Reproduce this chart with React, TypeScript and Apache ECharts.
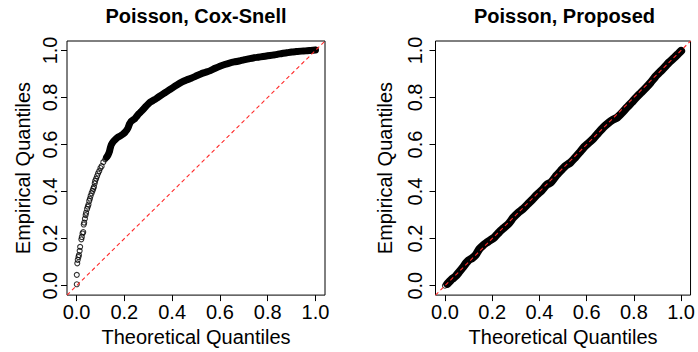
import React, { useEffect, useRef } from "react";
import * as echarts from "echarts";

// Tick values shared by both panels
const tickValues = [0, 0.2, 0.4, 0.6, 0.8, 1.0];

// Left panel: Poisson, Cox-Snell — sparse low-end points
const coxSparseX = [0.001, 0.001, 0.003, 0.005, 0.008, 0.01, 0.013, 0.015, 0.02, 0.022, 0.025, 0.028, 0.03, 0.032, 0.035, 0.038, 0.04, 0.044, 0.047, 0.05, 0.053, 0.056, 0.059, 0.063, 0.067, 0.07, 0.073, 0.076, 0.078, 0.082, 0.086, 0.09, 0.095];
const coxSparseY = [0.006, 0.046, 0.095, 0.11, 0.122, 0.13, 0.148, 0.165, 0.197, 0.207, 0.222, 0.228, 0.26, 0.268, 0.285, 0.3, 0.31, 0.326, 0.336, 0.345, 0.36, 0.37, 0.382, 0.393, 0.403, 0.412, 0.42, 0.435, 0.445, 0.455, 0.466, 0.477, 0.487];

// Left panel: dense part of the curve
const coxDenseX = [0.1, 0.105, 0.112, 0.12, 0.126, 0.132, 0.137, 0.141, 0.145, 0.15, 0.156, 0.165, 0.175, 0.185, 0.195, 0.203, 0.21, 0.216, 0.222, 0.228, 0.236, 0.244, 0.252, 0.26, 0.27, 0.28, 0.29, 0.3, 0.31, 0.325, 0.34, 0.355, 0.37, 0.385, 0.4, 0.42, 0.44, 0.46, 0.48, 0.5, 0.52, 0.54, 0.56, 0.58, 0.6, 0.62, 0.64, 0.66, 0.68, 0.7, 0.72, 0.74, 0.76, 0.78, 0.8, 0.82, 0.84, 0.86, 0.88, 0.9, 0.92, 0.94, 0.96, 0.98, 1.0];
const coxDenseY = [0.5, 0.508, 0.525, 0.537, 0.546, 0.556, 0.568, 0.585, 0.598, 0.607, 0.615, 0.624, 0.632, 0.638, 0.645, 0.652, 0.661, 0.672, 0.688, 0.698, 0.704, 0.71, 0.72, 0.73, 0.74, 0.75, 0.762, 0.772, 0.781, 0.79, 0.8, 0.81, 0.82, 0.83, 0.84, 0.853, 0.865, 0.874, 0.882, 0.891, 0.9, 0.907, 0.914, 0.924, 0.933, 0.94, 0.946, 0.951, 0.955, 0.96, 0.964, 0.968, 0.971, 0.974, 0.977, 0.98, 0.983, 0.987, 0.99, 0.993, 0.995, 0.997, 0.998, 1.0, 1.002];

// Right panel: Poisson, Proposed
const propX = [0.0, 0.01, 0.02, 0.03, 0.045, 0.06, 0.075, 0.09, 0.1, 0.115, 0.13, 0.145, 0.16, 0.175, 0.19, 0.21, 0.23, 0.25, 0.27, 0.29, 0.31, 0.33, 0.35, 0.37, 0.39, 0.41, 0.43, 0.45, 0.47, 0.49, 0.51, 0.53, 0.55, 0.57, 0.59, 0.61, 0.63, 0.65, 0.67, 0.69, 0.71, 0.73, 0.75, 0.77, 0.79, 0.81, 0.83, 0.85, 0.87, 0.89, 0.91, 0.93, 0.95, 0.97, 0.99, 1.0];
const propY = [0.0, 0.008, 0.018, 0.028, 0.04, 0.058, 0.077, 0.097, 0.108, 0.117, 0.13, 0.155, 0.17, 0.182, 0.192, 0.206, 0.228, 0.246, 0.264, 0.29, 0.31, 0.326, 0.346, 0.366, 0.387, 0.405, 0.428, 0.44, 0.466, 0.488, 0.509, 0.522, 0.543, 0.566, 0.59, 0.608, 0.627, 0.65, 0.672, 0.69, 0.705, 0.715, 0.735, 0.757, 0.778, 0.8, 0.82, 0.84, 0.862, 0.887, 0.908, 0.928, 0.95, 0.968, 0.988, 0.998];

// Reference line y = x across the plotting range
const refLine = [-0.04, 1.04];

const AX_MIN = -0.04;
const AX_MAX = 1.04;
const FONT = "Liberation Sans, Arial, Helvetica, sans-serif";

const zip = (xs: number[], ys: number[]) => xs.map((x, i) => [x, ys[i]]);

function makeX(gridIndex: number) {
  return {
    type: "value",
    gridIndex,
    min: AX_MIN,
    max: AX_MAX,
    name: "Theoretical Quantiles",
    nameLocation: "middle",
    nameGap: 31,
    nameTextStyle: { fontSize: 20, color: "#000", fontFamily: FONT },
    axisLine: { show: false, onZero: false },
    axisTick: {
      show: true,
      length: 6,
      inside: false,
      customValues: tickValues,
      lineStyle: { color: "#000", width: 1 },
    },
    axisLabel: {
      customValues: tickValues,
      formatter: (v: number) => v.toFixed(1),
      fontSize: 20,
      color: "#000",
      fontFamily: FONT,
      margin: 7,
    },
    splitLine: { show: false },
  };
}

function makeY(gridIndex: number, nameGap: number, margin: number) {
  return {
    type: "value",
    gridIndex,
    min: AX_MIN,
    max: AX_MAX,
    name: "Empirical Quantiles",
    nameLocation: "middle",
    nameGap,
    nameTextStyle: { fontSize: 20, color: "#000", fontFamily: FONT },
    axisLine: { show: false, onZero: false },
    axisTick: {
      show: true,
      length: 6,
      inside: false,
      customValues: tickValues,
      lineStyle: { color: "#000", width: 1 },
    },
    axisLabel: {
      customValues: tickValues,
      formatter: (v: number) => v.toFixed(1),
      fontSize: 20,
      color: "#000",
      fontFamily: FONT,
      rotate: 90,
      margin,
    },
    splitLine: { show: false },
  };
}

function panelSeries(idx: number, dense: number[][], all: number[][], bandWidth: number) {
  return [
    {
      type: "line",
      xAxisIndex: idx,
      yAxisIndex: idx,
      data: dense,
      showSymbol: false,
      symbol: "none",
      smooth: 0.2,
      silent: true,
      lineStyle: { color: "#000", width: bandWidth, cap: "round", join: "round" },
      z: 2,
    },
    {
      type: "scatter",
      xAxisIndex: idx,
      yAxisIndex: idx,
      data: all,
      symbol: "circle",
      symbolSize: 5,
      silent: true,
      itemStyle: { color: "rgba(0,0,0,0)", borderColor: "#000", borderWidth: 1.1 },
      z: 3,
    },
    {
      type: "line",
      xAxisIndex: idx,
      yAxisIndex: idx,
      data: zip(refLine, refLine),
      showSymbol: false,
      symbol: "none",
      silent: true,
      lineStyle: { color: "#ff2a2a", width: 1.1, type: [4, 3] },
      z: 5,
    },
  ];
}

export default function App() {
  const ref = useRef<HTMLDivElement>(null);

  useEffect(() => {
    document.body.style.margin = "0";
    if (!ref.current) return;
    const chart = echarts.init(ref.current, null, { renderer: "svg" });

    const coxAll = zip(coxSparseX, coxSparseY).concat(zip(coxDenseX, coxDenseY));
    const coxDense = zip(coxDenseX.slice(4), coxDenseY.slice(4));
    const propAll = zip(propX, propY);
    const propDense = zip(propX.slice(1), propY.slice(1));

    chart.setOption({
      animation: false,
      backgroundColor: "#fff",
      grid: [
        { left: 67, top: 41, width: 258, height: 258, show: true, borderColor: "#000", borderWidth: 1, backgroundColor: "transparent" },
        { left: 435.5, top: 41, width: 258, height: 258, show: true, borderColor: "#000", borderWidth: 1, backgroundColor: "transparent" },
      ],
      xAxis: [makeX(0), makeX(1)],
      yAxis: [makeY(0, 34, 7), makeY(1, 41, 11)],
      graphic: [
        {
          type: "text",
          x: 196,
          y: 16,
          style: { text: "Poisson, Cox-Snell", font: `bold 20px ${FONT}`, fill: "#000", textAlign: "center", textVerticalAlign: "middle" },
        },
        {
          type: "text",
          x: 564.5,
          y: 16,
          style: { text: "Poisson, Proposed", font: `bold 20px ${FONT}`, fill: "#000", textAlign: "center", textVerticalAlign: "middle" },
        },
      ],
      series: [...panelSeries(0, coxDense, coxAll, 7), ...panelSeries(1, propDense, propAll, 8)],
    });

    return () => chart.dispose();
  }, []);

  return <div ref={ref} style={{ position: "absolute", left: 0, top: 0, width: 698, height: 352 }} />;
}
